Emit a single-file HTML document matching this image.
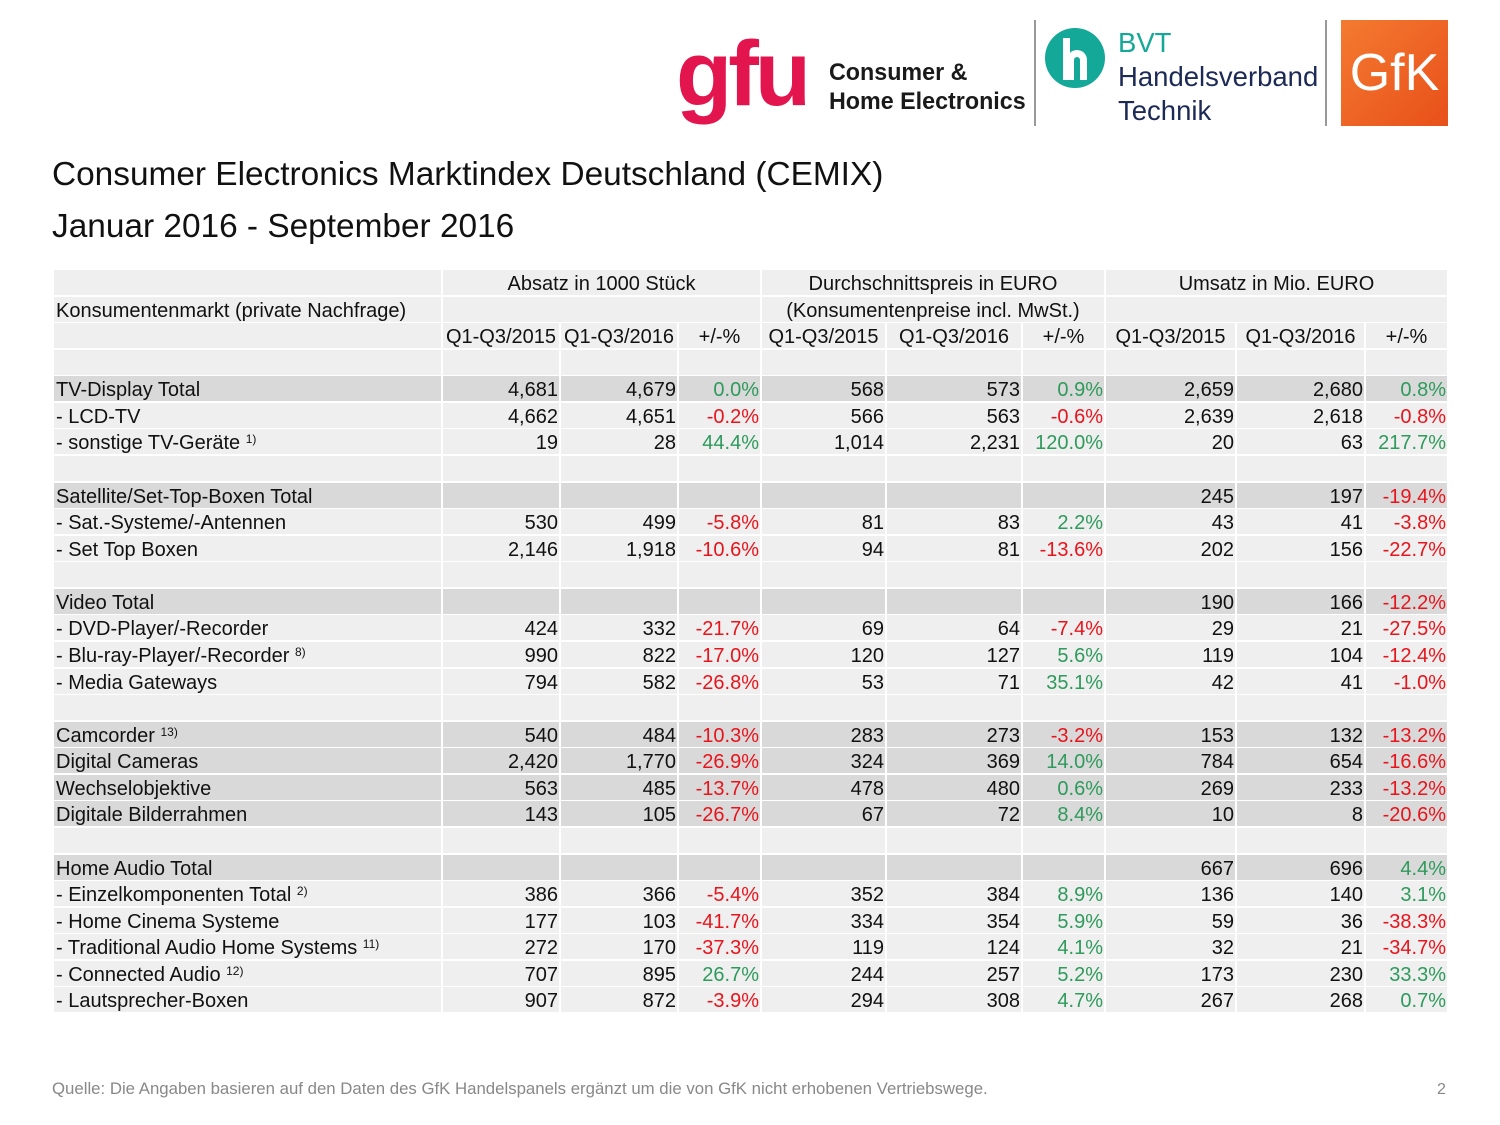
<!DOCTYPE html>
<html><head><meta charset="utf-8">
<style>
body{margin:0;width:1500px;height:1125px;background:#fff;position:relative;overflow:hidden;font-family:"Liberation Sans",Arial,sans-serif;}
.abs{position:absolute;}
.cell{position:absolute;box-sizing:border-box;font-size:20px;line-height:29px;white-space:nowrap;color:#111;padding:0 1px;}
.r{text-align:right;} .c{text-align:center;} .l{text-align:left;padding-left:2px;}
sup{font-size:12px;vertical-align:6px;line-height:0;}
.pos{color:#2e9a5c;} .neg{color:#e8141c;}
</style></head><body>
<div class="abs" style="left:676px;top:24px;font-size:92px;font-weight:bold;color:#e3154e;letter-spacing:-4px;line-height:100px;font-family:'Liberation Sans',sans-serif;">gfu</div>
<div class="abs" style="left:829px;top:58px;font-size:24px;font-weight:bold;line-height:29px;color:#1a1a1a;transform:scaleX(0.97);transform-origin:left;">Consumer &amp;<br>Home Electronics</div>
<div class="abs" style="left:1034px;top:20px;width:2px;height:106px;background:#999;"></div>
<div class="abs" style="left:1045px;top:28px;width:60px;height:60px;border-radius:50%;background:#14a898;">
 <div style="position:absolute;left:18px;top:10px;width:7px;height:42px;background:#fff;"></div>
 <div style="position:absolute;left:22px;top:22px;width:20px;height:30px;border:7px solid #fff;border-bottom:none;border-radius:12px 12px 0 0;box-sizing:border-box;"></div>
</div>
<div class="abs" style="left:1118px;top:26px;font-size:27.5px;line-height:34px;color:#1c2a55;"><span style="color:#14a898">BVT</span><br>Handelsverband<br>Technik</div>
<div class="abs" style="left:1325px;top:20px;width:2px;height:106px;background:#999;"></div>
<div class="abs" style="left:1341px;top:20px;width:107px;height:106px;background:linear-gradient(135deg,#f47a30,#e8501a);color:#fff;font-size:52px;text-align:center;line-height:106px;">GfK</div>

<div class="abs" style="left:52px;top:156px;font-size:33.4px;line-height:38px;color:#111;">Consumer Electronics Marktindex Deutschland (CEMIX)</div>
<div class="abs" style="left:52px;top:208px;font-size:33.4px;line-height:38px;color:#111;">Januar 2016 - September 2016</div>

<div id="tbl"></div>

<div class="abs" style="left:52px;top:1079px;font-size:16.8px;color:#888;">Quelle: Die Angaben basieren auf den Daten des GfK Handelspanels ergänzt um die von GfK nicht erhobenen Vertriebswege.</div>
<div class="abs" style="left:1437px;top:1081px;font-size:16px;color:#888;">2</div>

<script>
const colL=[54,443,561,679,762,887,1023,1106,1237,1366];
const colR=[441,559,677,760,885,1021,1104,1235,1364,1447];
const top0=270, rowH=26.57;
const rowTV=["t","TV-Display Total","4,681","4,679","0.0%","568","573","0.9%","2,659","2,680","0.8%"];
const rowLCD=["n","- LCD-TV","4,662","4,651","-0.2%","566","563","-0.6%","2,639","2,618","-0.8%"];
const rowOtherTV=["n","- sonstige TV-Geräte <sup>1)</sup>","19","28","44.4%","1,014","2,231","120.0%","20","63","217.7%"];
const rowSat=["t","Satellite/Set-Top-Boxen Total","","","","","","","245","197","-19.4%"];
const rowSatSys=["n","- Sat.-Systeme/-Antennen","530","499","-5.8%","81","83","2.2%","43","41","-3.8%"];
const rowSTB=["n","- Set Top Boxen","2,146","1,918","-10.6%","94","81","-13.6%","202","156","-22.7%"];
const rowVideo=["t","Video Total","","","","","","","190","166","-12.2%"];
const rowDVD=["n","- DVD-Player/-Recorder","424","332","-21.7%","69","64","-7.4%","29","21","-27.5%"];
const rowBluray=["n","- Blu-ray-Player/-Recorder <sup>8)</sup>","990","822","-17.0%","120","127","5.6%","119","104","-12.4%"];
const rowMedia=["n","- Media Gateways","794","582","-26.8%","53","71","35.1%","42","41","-1.0%"];
const rowCam=["t","Camcorder <sup>13)</sup>","540","484","-10.3%","283","273","-3.2%","153","132","-13.2%"];
const rowDigCam=["t","Digital Cameras","2,420","1,770","-26.9%","324","369","14.0%","784","654","-16.6%"];
const rowLens=["t","Wechselobjektive","563","485","-13.7%","478","480","0.6%","269","233","-13.2%"];
const rowFrame=["t","Digitale Bilderrahmen","143","105","-26.7%","67","72","8.4%","10","8","-20.6%"];
const rowAudio=["t","Home Audio Total","","","","","","","667","696","4.4%"];
const rowEinzel=["n","- Einzelkomponenten Total <sup>2)</sup>","386","366","-5.4%","352","384","8.9%","136","140","3.1%"];
const rowCinema=["n","- Home Cinema Systeme","177","103","-41.7%","334","354","5.9%","59","36","-38.3%"];
const rowTrad=["n","- Traditional Audio Home Systems <sup>11)</sup>","272","170","-37.3%","119","124","4.1%","32","21","-34.7%"];
const rowConn=["n","- Connected Audio <sup>12)</sup>","707","895","26.7%","244","257","5.2%","173","230","33.3%"];
const rowSpk=["n","- Lautsprecher-Boxen","907","872","-3.9%","294","308","4.7%","267","268","0.7%"];
const BL=["b",""];
const rows=[BL,rowTV,rowLCD,rowOtherTV,BL,rowSat,rowSatSys,rowSTB,BL,rowVideo,rowDVD,rowBluray,rowMedia,BL,rowCam,rowDigCam,rowLens,rowFrame,BL,rowAudio,rowEinzel,rowCinema,rowTrad,rowConn,rowSpk];
const periods=["Q1-Q3/2015","Q1-Q3/2016","+/-%"];

const tbl=document.getElementById('tbl');
function cell(x,y,w,bg,html,cls,name){
  const d=document.createElement('div');
  d.className='cell '+cls;
  d.style.left=x+'px';d.style.top=y+'px';d.style.width=w+'px';d.style.height=(Math.round(rowH)-2)+'px';
  d.style.background=bg;d.innerHTML=html;
  
  
  tbl.appendChild(d);return d;
}
function y(i){return Math.round(top0+i*rowH);}
const light="#efefef", dark="#d9d9d9";
cell(colL[0],y(0),colR[0]-colL[0],light,"","l","header-blank");
[["Absatz in 1000 Stück",1,3],["Durchschnittspreis in EURO",4,6],["Umsatz in Mio. EURO",7,9]].forEach((g,k)=>{
  cell(colL[g[1]],y(0),colR[g[2]]-colL[g[1]],light,g[0],"c","group-header");
});
cell(colL[0],y(1),colR[0]-colL[0],light,"Konsumentenmarkt (private Nachfrage)","l","market-label");
cell(colL[1],y(1),colR[3]-colL[1],light,"","c","header-blank");
cell(colL[4],y(1),colR[6]-colL[4],light,"(Konsumentenpreise incl. MwSt.)","c","price-note");
cell(colL[7],y(1),colR[9]-colL[7],light,"","c","header-blank");
cell(colL[0],y(2),colR[0]-colL[0],light,"","l","header-blank");
for(let c=1;c<10;c++){cell(colL[c],y(2),colR[c]-colL[c],light,periods[(c-1)%3],"c","period-header");}
rows.forEach((r,i)=>{
  const yy=y(i+3);
  const bg=r[0]==="t"?dark:light;
  cell(colL[0],yy,colR[0]-colL[0],bg,r[1],"l",r[0]==="b"?"blank-row":"row-label");
  for(let c=1;c<10;c++){
    const v=r[c+1]||"";
    let cls="r";
    if(c%3===0&&v){cls+=v.startsWith("-")?" neg":" pos";}
    cell(colL[c],yy,colR[c]-colL[c],bg,v,cls,c%3===0?"change-value":"value-cell");
  }
});
</script>
</body></html>
